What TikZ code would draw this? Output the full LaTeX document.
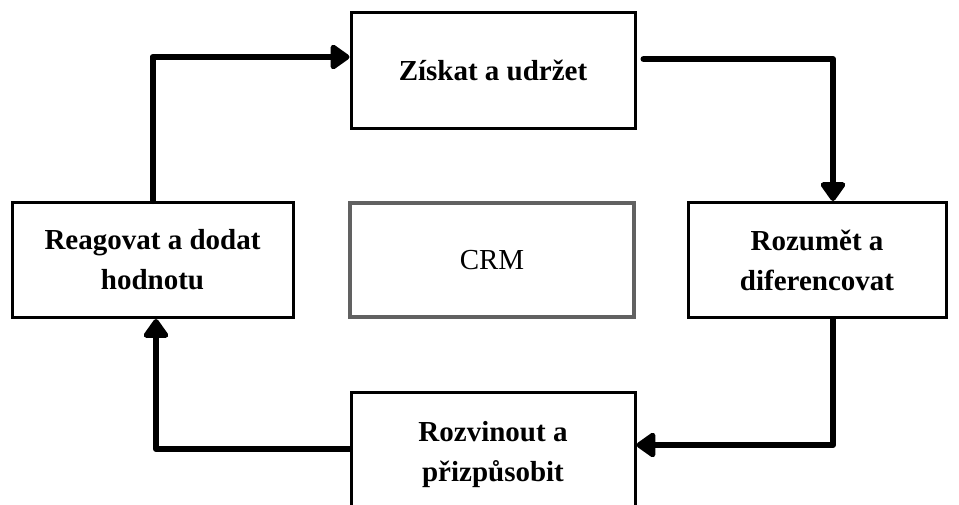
\documentclass[tikz,border=0pt]{standalone}
\usepackage{fontspec}
\setmainfont{Liberation Serif}
\usetikzlibrary{arrows.meta}
\begin{document}
\begin{tikzpicture}[x=1pt,y=-1pt,
  stage/.style={draw=black, line width=3pt, fill=white,
    minimum height=116pt, align=center, inner sep=0pt,
    font=\fontsize{29}{40}\selectfont\bfseries},
  hub/.style={draw=black!62, line width=3.2pt, fill=white,
    minimum width=284pt, minimum height=114pt, inner sep=0pt,
    font=\fontsize{29}{40}\selectfont},
  flow/.style={line width=6pt, line join=round, line cap=round,
    -{Triangle[length=21pt,width=28pt,round]}}]
\useasboundingbox (0,0) rectangle (959,504);
\begin{scope}
\clip (0,0) rectangle (959,504);
% the four stages of the cycle and the centre
\node[stage, minimum width=284pt] (ziskat) at (493,70) {Získat a udržet};
\node[stage, minimum width=258pt, minimum height=115pt] (rozum) at (817,260) {Rozumět a\\diferencovat};
\node[stage, minimum width=284pt, minimum height=126pt] (rozvin) at (493,455) {Rozvinout a\\přizpůsobit};
\node[stage, minimum width=281pt, minimum height=115pt] (reag) at (152.5,260) {Reagovat a dodat\\hodnotu};
\node[hub] (crm) at (492,260) {CRM};
% connectors running clockwise
\draw[flow] (reag.north) |- ([yshift=13pt]ziskat.west);
\draw[flow] ([xshift=7pt,yshift=11pt]ziskat.east) -| ([xshift=16pt]rozum.north);
\draw[flow] ([xshift=16pt]rozum.south) |- ([yshift=10pt]rozvin.east);
\draw[flow] ([yshift=6pt]rozvin.west) -| ([xshift=3.5pt]reag.south);
\end{scope}
\end{tikzpicture}
\end{document}
